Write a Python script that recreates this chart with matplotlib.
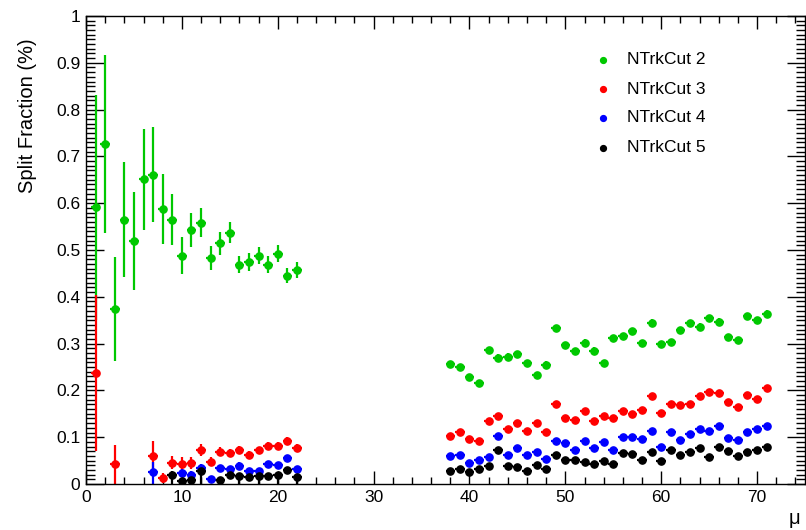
import numpy as np
import matplotlib
matplotlib.use("Agg")
import matplotlib.pyplot as plt
from matplotlib.ticker import MultipleLocator

plt.rcParams['font.family'] = ['Liberation Sans', 'DejaVu Sans']

# ---------------- data ----------------
mu_green_low = list(range(1, 23))
green_low = [0.591, 0.726, 0.373, 0.565, 0.519, 0.651, 0.661, 0.588, 0.565, 0.488, 0.542,
             0.558, 0.483, 0.514, 0.537, 0.469, 0.475, 0.488, 0.469, 0.492, 0.445, 0.458]
green_low_err = [0.240, 0.190, 0.111, 0.122, 0.105, 0.108, 0.102, 0.075, 0.054, 0.040, 0.036,
                 0.031, 0.026, 0.025, 0.022, 0.019, 0.019, 0.018, 0.018, 0.018, 0.016, 0.017]

mu_high = list(range(38, 72))
green_high = [0.256, 0.249, 0.229, 0.215, 0.286, 0.270, 0.272, 0.277, 0.259, 0.233, 0.255, 0.333,
              0.297, 0.284, 0.302, 0.285, 0.259, 0.311, 0.316, 0.326, 0.301, 0.345, 0.299, 0.303,
              0.328, 0.343, 0.336, 0.355, 0.347, 0.314, 0.308, 0.358, 0.350, 0.364]
red_high = [0.103, 0.112, 0.096, 0.092, 0.134, 0.146, 0.117, 0.131, 0.113, 0.131, 0.112, 0.172,
            0.141, 0.136, 0.156, 0.135, 0.145, 0.142, 0.156, 0.150, 0.159, 0.188, 0.152, 0.170,
            0.168, 0.171, 0.188, 0.196, 0.195, 0.176, 0.165, 0.191, 0.182, 0.206]
blue_high = [0.059, 0.062, 0.044, 0.051, 0.057, 0.102, 0.063, 0.077, 0.061, 0.069, 0.054, 0.091,
             0.087, 0.072, 0.092, 0.077, 0.089, 0.072, 0.100, 0.100, 0.096, 0.114, 0.080, 0.112,
             0.093, 0.107, 0.118, 0.113, 0.124, 0.098, 0.095, 0.111, 0.117, 0.124]
black_high = [0.027, 0.032, 0.025, 0.031, 0.038, 0.072, 0.038, 0.037, 0.028, 0.041, 0.032, 0.062,
              0.052, 0.052, 0.048, 0.043, 0.050, 0.043, 0.067, 0.065, 0.052, 0.069, 0.050, 0.072,
              0.062, 0.069, 0.077, 0.058, 0.078, 0.071, 0.060, 0.069, 0.072, 0.079]
green_high_err = 0.007
red_high_err = 0.005
blue_high_err = 0.004
black_high_err = 0.003

mu_red_low = [1, 3, 7, 8, 9, 10, 11, 12, 13, 14, 15, 16, 17, 18, 19, 20, 21, 22]
red_low = [0.237, 0.043, 0.060, 0.013, 0.045, 0.043, 0.045, 0.073, 0.048, 0.069, 0.066, 0.073,
           0.062, 0.072, 0.082, 0.082, 0.092, 0.077]
red_low_errlo = [0.166, 0.043, 0.030, 0.010, 0.014, 0.014, 0.013, 0.013, 0.010, 0.009, 0.009,
                 0.009, 0.008, 0.008, 0.008, 0.008, 0.008, 0.008]
red_low_errhi = [0.166, 0.041, 0.031, 0.010, 0.014, 0.014, 0.013, 0.013, 0.010, 0.009, 0.009,
                 0.009, 0.008, 0.008, 0.008, 0.008, 0.008, 0.008]

mu_blue_low = [7, 10, 11, 12, 13, 14, 15, 16, 17, 18, 19, 20, 21, 22]
blue_low = [0.025, 0.023, 0.020, 0.034, 0.011, 0.034, 0.032, 0.039, 0.027, 0.028, 0.043, 0.040,
            0.055, 0.033]
blue_low_errlo = [0.025, 0.008, 0.008, 0.008, 0.007, 0.007, 0.007, 0.007, 0.006, 0.006, 0.006,
                  0.006, 0.006, 0.006]
blue_low_errhi = [0.021, 0.008, 0.008, 0.008, 0.007, 0.007, 0.007, 0.007, 0.006, 0.006, 0.006,
                  0.006, 0.006, 0.006]

mu_black_low = [9, 10, 11, 12, 14, 15, 16, 17, 18, 19, 20, 21, 22]
black_low = [0.020, 0.007, 0.009, 0.028, 0.009, 0.019, 0.018, 0.016, 0.018, 0.017, 0.019, 0.029,
             0.014]
black_low_errlo = [0.020, 0.007, 0.009, 0.028, 0.009, 0.006, 0.018, 0.006, 0.018, 0.006, 0.019,
                   0.006, 0.014]
black_low_errhi = [0.008, 0.006, 0.006, 0.008, 0.006, 0.006, 0.006, 0.006, 0.006, 0.006, 0.007,
                   0.006, 0.006]

labels = ["NTrkCut 2", "NTrkCut 3", "NTrkCut 4", "NTrkCut 5"]
colors = ["#00c800", "#ff0000", "#0000ff", "#000000"]

# ---------------- figure ----------------
W, H = 806, 530
fig = plt.figure(figsize=(W / 100, H / 100), dpi=100)
ax = fig.add_axes([86 / W, (H - 484) / H, (805 - 86) / W, (484 - 16) / H])

ekw = dict(fmt='o', markersize=5.2, elinewidth=1.6, capsize=0, xerr=0.5, clip_on=True)

series = [
    (mu_green_low, green_low, [green_low_err, green_low_err], green_high, green_high_err),
    (mu_red_low, red_low, [red_low_errlo, red_low_errhi], red_high, red_high_err),
    (mu_blue_low, blue_low, [blue_low_errlo, blue_low_errhi], blue_high, blue_high_err),
    (mu_black_low, black_low, [black_low_errlo, black_low_errhi], black_high, black_high_err),
]
for (mx, my, myerr, hy, herr), c in zip(series, colors):
    ax.errorbar(mx, my, yerr=myerr, color=c, mec=c, mfc=c, **ekw)
    ax.errorbar(mu_high, hy, yerr=herr, color=c, mec=c, mfc=c, **ekw)

ax.set_xlim(0, 75)
ax.set_ylim(0, 1)

ax.xaxis.set_major_locator(MultipleLocator(10))
ax.xaxis.set_minor_locator(MultipleLocator(2))
ax.yaxis.set_major_locator(MultipleLocator(0.1))
ax.yaxis.set_minor_locator(MultipleLocator(0.01))
ax.tick_params(axis='both', which='both', direction='in', top=True, right=True,
               labelsize=12.5, width=1, colors='black')
ax.tick_params(axis='x', which='major', length=9.5, pad=4)
ax.tick_params(axis='x', which='minor', length=4.8)
ax.tick_params(axis='y', which='major', length=13, pad=4)
ax.tick_params(axis='y', which='minor', length=6.5)
ax.set_yticks(np.round(np.arange(0, 1.01, 0.1), 1))
ax.set_yticklabels(['0', '0.1', '0.2', '0.3', '0.4', '0.5', '0.6', '0.7', '0.8', '0.9', '1'])
for s in ax.spines.values():
    s.set_linewidth(1)

fig.text(800 / W, 1 - 518 / H, "μ", ha='right', va='center', fontsize=14.5)
fig.text(28 / W, 1 - 38 / H, "Split Fraction (%)", ha='center', va='top', rotation=90,
         fontsize=14.5)

# legend
leg_y = [60, 89, 118, 148]
for lab, c, yy in zip(labels, colors, leg_y):
    fig.lines.append(plt.Line2D([603 / W], [1 - yy / H], marker='o', markersize=4.2,
                                color=c, mec=c, transform=fig.transFigure, linestyle='none'))
    fig.text(627 / W, 1 - yy / H, lab, ha='left', va='center', fontsize=12.5)

fig.savefig("out.png", dpi=100)
